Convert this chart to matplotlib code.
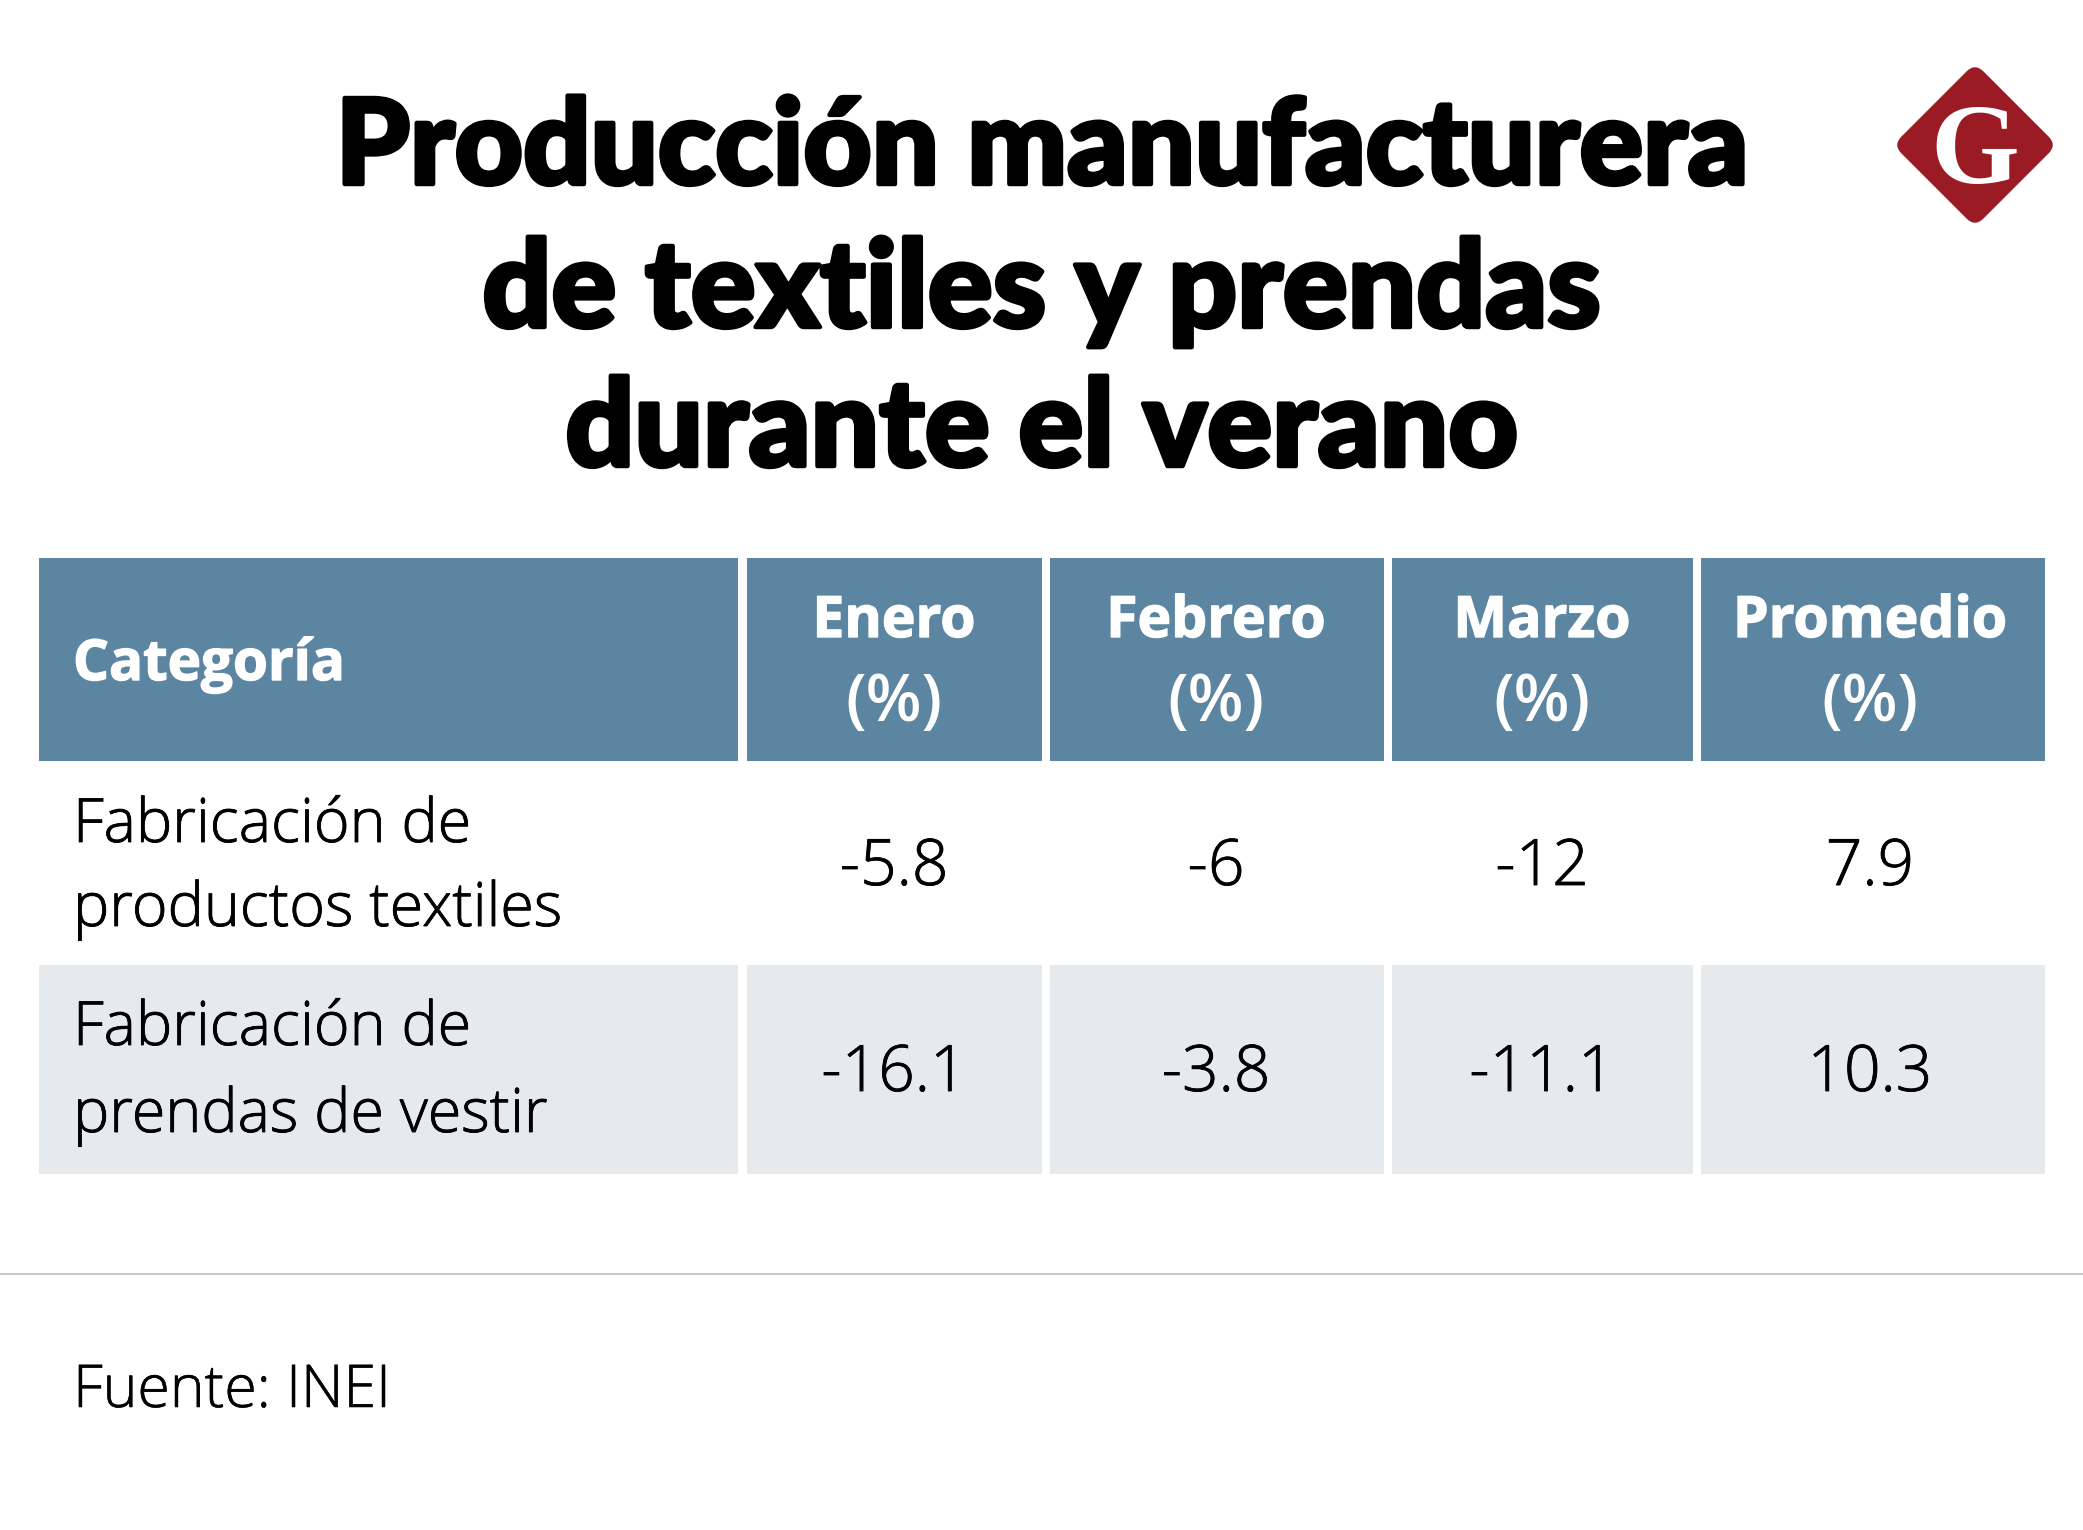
import matplotlib
matplotlib.use("Agg")
import matplotlib.pyplot as plt
import matplotlib.patheffects as pe
from matplotlib.patches import Rectangle, FancyBboxPatch
from matplotlib.transforms import Affine2D

title_lines = ["Producción manufacturera", "de textiles y prendas", "durante el verano"]
headers = ["Categoría", "Enero", "Febrero", "Marzo", "Promedio"]
unit = "(%)"
categories = [["Fabricación de", "productos textiles"], ["Fabricación de", "prendas de vestir"]]
enero = ["-5.8", "-16.1"]
febrero = ["-6", "-3.8"]
marzo = ["-12", "-11.1"]
promedio = ["7.9", "10.3"]
source = "Fuente: INEI"

W, H = 2083, 1530
col_edges = [(38.5, 738), (747, 1042), (1050, 1384), (1392, 1693), (1701, 2045)]
col_centers = [None, 894, 1216, 1542, 1870]
HEAD = "#5b85a1"
GREY = "#e7eaed"
RED = "#9b1b24"
BODY = "Open Sans"
PT = 72 / 100


def thick(width, color):
    return [pe.withStroke(linewidth=width, foreground=color)]


fig = plt.figure(figsize=(W / 100, H / 100), dpi=100, facecolor="white")
ax = fig.add_axes([0, 0, 1, 1])
ax.set_xlim(0, W)
ax.set_ylim(H, 0)
ax.axis("off")

for line, y, size in zip(title_lines, [184, 327, 466], [118.5, 121, 121]):
    ax.text(1042, y, line, ha="center", va="baseline", family="Lato", weight=900,
            fontsize=size * PT, color="black", path_effects=thick(3.2, "black"))

for i, (x0, x1) in enumerate(col_edges):
    ax.add_patch(Rectangle((x0, 558), x1 - x0, 203, fc=HEAD, ec="none"))
    ax.add_patch(Rectangle((x0, 965), x1 - x0, 209, fc=GREY, ec="none"))
    if i == 0:
        ax.text(73, 680, headers[0], ha="left", va="baseline", family=BODY, weight="bold",
                fontsize=56.5 * PT, color="white", path_effects=thick(1.0, "white"))
    else:
        cx = col_centers[i]
        ax.text(cx, 637, headers[i], ha="center", va="baseline", family=BODY, weight="bold",
                fontsize=57 * PT, color="white", path_effects=thick(1.0, "white"))
        ax.text(cx, 721, unit, ha="center", va="baseline", family=BODY, weight="semibold",
                fontsize=65 * PT, color="white")

for cat, ys in zip(categories, [(842, 926), (1045, 1132)]):
    for line, y in zip(cat, ys):
        ax.text(73, y, line, ha="left", va="baseline", family=BODY, weight="light",
                fontsize=61 * PT, color="black", path_effects=thick(0.6, "black"))

for j, col in enumerate([enero, febrero, marzo, promedio]):
    for val, y in zip(col, [885, 1091]):
        ax.text(col_centers[j + 1], y, val, ha="center", va="baseline", family=BODY,
                weight="light", fontsize=64 * PT, color="black", path_effects=thick(0.6, "black"))

ax.plot([0, W], [1274, 1274], color="#c9c9c9", lw=1.4)
ax.text(73, 1407, source, ha="left", va="baseline", family=BODY, weight="light",
        fontsize=59 * PT, color="black", path_effects=thick(0.4, "black"))

# logo: rounded diamond with a white serif G
d = FancyBboxPatch((-58, -58), 116, 116, boxstyle="round,pad=0,rounding_size=12", fc=RED, ec="none",
                   transform=Affine2D().rotate_deg(45).translate(1975, 145) + ax.transData)
ax.add_patch(d)
ax.text(1975, 183, "G", ha="center", va="baseline", family="Liberation Serif", weight="bold",
        fontsize=114 * PT, color="white")

fig.savefig("out.png", dpi=100, facecolor="white")
